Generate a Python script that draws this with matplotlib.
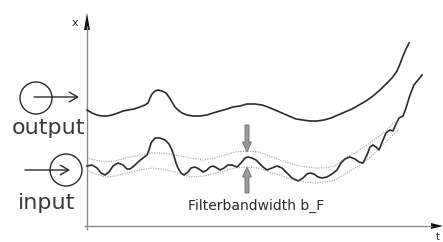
import matplotlib
matplotlib.use("Agg")
import matplotlib.pyplot as plt
from matplotlib.patches import Circle, FancyArrow

# --- data (t = horizontal position, x = vertical level, screen units) ---
out_t = [87, 92, 97, 102, 107, 112, 118, 123, 128, 134, 140, 145, 148, 150, 152, 155, 158, 162, 166,
         169, 172, 175, 178, 182, 187, 193, 200, 207, 213, 220, 227, 233, 240, 247, 255, 262, 268,
         275, 282, 289, 296, 303, 310, 317, 324, 331, 338, 345, 352, 359, 366, 373, 380, 386, 392,
         397, 400, 403, 406, 409]
out_x = [110, 113, 115, 116, 116, 115, 113, 111, 110, 109, 107, 105, 103, 98, 94, 91, 90, 91, 93,
         97, 102, 107, 110, 113, 115, 116, 116, 115, 113, 111, 109, 107, 106, 104, 104, 105, 107,
         110, 113, 116, 119, 120, 121, 121, 120, 118, 115, 112, 109, 105, 101, 96, 90, 84, 78,
         71, 64, 56, 49, 43]

in_t = [87, 92, 97, 101, 105, 109, 113, 118, 123, 127, 130, 134, 138, 143, 147, 149, 151, 155, 160,
        165, 169, 172, 174, 176, 178, 181, 184, 188, 191, 195, 199, 203, 207, 210, 213, 217, 220,
        224, 228, 232, 237, 241, 245, 248, 252, 256, 259, 263, 267, 272, 277, 282, 287, 292, 298,
        303, 307, 310, 314, 318, 322, 327, 332, 337, 341, 345, 350, 355, 359, 363, 367, 370, 373,
        376, 379, 383, 386, 390, 393, 396, 399, 403, 406, 410, 414, 418, 422]
in_x = [166, 165, 168, 173, 175, 172, 166, 163, 165, 169, 169, 166, 162, 158, 155, 150, 143, 138, 138,
        140, 144, 150, 156, 163, 168, 173, 175, 172, 168, 167, 169, 172, 170, 167, 166, 168, 170,
        168, 165, 165, 167, 163, 158, 157, 158, 160, 163, 167, 170, 168, 166, 168, 173, 178, 181,
        178, 174, 173, 174, 177, 178, 177, 174, 170, 163, 159, 157, 159, 162, 163, 155, 147, 145,
        147, 150, 140, 133, 130, 131, 124, 118, 116, 108, 95, 85, 80, 75]

band_hi_t = [87, 95, 105, 115, 125, 135, 145, 152, 160, 170, 180, 190, 203, 215, 225, 235, 247, 258,
             270, 285, 300, 315, 325, 335, 345, 355, 367, 378, 388, 395]
band_hi_x = [158, 160, 162, 161, 158, 156, 154, 153, 153, 154, 156, 158, 160, 158, 155, 152, 151, 152,
             156, 162, 166, 168, 168, 166, 158, 153, 145, 137, 129, 121]

band_lo_t = [87, 95, 105, 115, 128, 140, 152, 162, 175, 190, 205, 220, 235, 247, 258, 270, 285, 295,
             305, 315, 325, 335, 345, 355, 367, 380, 390, 398]
band_lo_x = [170, 174, 177, 176, 173, 170, 168, 169, 172, 177, 176, 172, 168, 167, 168, 172, 177, 180,
             182, 183, 182, 180, 174, 168, 160, 148, 138, 130]

labels = ["output", "input"]
axis_labels = ["x", "t"]
band_label = "Filterbandwidth b_F"

W, H = 443, 242
fig = plt.figure(figsize=(W / 100, H / 100), dpi=100)
ax = fig.add_axes([0, 0, 1, 1])
ax.set_xlim(0, W)
ax.set_ylim(H, 0)
ax.axis("off")

dark = "#2b2b2b"
axis_c = "#8a8a8a"

# axes
ax.plot([87, 87], [230, 26], color=axis_c, lw=1.0, solid_capstyle="butt")
ax.plot([84, 432], [226, 226], color=axis_c, lw=1.0, solid_capstyle="butt")
ax.add_patch(FancyArrow(87, 31, 0, -18, width=0.01, head_width=6, head_length=17,
                        length_includes_head=True, color="#111111", lw=0))
ax.add_patch(FancyArrow(430, 226, 13, 0, width=0.01, head_width=6, head_length=12,
                        length_includes_head=True, color="#111111", lw=0))
ax.text(75, 23, axis_labels[0], fontsize=8, color=dark, ha="center", va="center")
ax.text(438, 237, axis_labels[1], fontsize=7, color=dark, ha="center", va="center")

# dotted band
ax.plot(band_hi_t, band_hi_x, color="#a0a0a0", lw=0.8, ls=(0, (1, 1.2)))
ax.plot(band_lo_t, band_lo_x, color="#a0a0a0", lw=0.8, ls=(0, (1, 1.2)))

# curves
ax.plot(out_t, out_x, color=dark, lw=1.2, solid_joinstyle="round")
ax.plot(in_t, in_x, color=dark, lw=1.2, solid_joinstyle="round")

# bandwidth arrows
ax.add_patch(FancyArrow(247, 125, 0, 27, width=4, head_width=9, head_length=10,
                        length_includes_head=True, facecolor="#9a9a9a", edgecolor="#6e6e6e", lw=0.6))
ax.add_patch(FancyArrow(247, 193, 0, -26, width=4, head_width=9, head_length=10,
                        length_includes_head=True, facecolor="#9a9a9a", edgecolor="#6e6e6e", lw=0.6))
ax.text(256, 206, band_label, fontsize=10, color=dark, ha="center", va="center")

# circles with arrows
ax.add_patch(Circle((36, 98), 16, fill=False, ec=dark, lw=1.0))
ax.annotate("", xy=(79, 97), xytext=(34, 97),
            arrowprops=dict(arrowstyle="->,head_length=0.6,head_width=0.35", lw=1.0, color=dark,
                            shrinkA=0, shrinkB=0))
ax.add_patch(Circle((66, 170), 16, fill=False, ec=dark, lw=1.0))
ax.annotate("", xy=(70, 170), xytext=(25, 170),
            arrowprops=dict(arrowstyle="->,head_length=0.6,head_width=0.35", lw=1.0, color=dark,
                            shrinkA=0, shrinkB=0))

ax.text(12, 128, labels[0], fontsize=16, color="#3a3a3a", ha="left", va="center")
ax.text(18, 203, labels[1], fontsize=16, color="#3a3a3a", ha="left", va="center")

fig.savefig("out.png", dpi=100)
